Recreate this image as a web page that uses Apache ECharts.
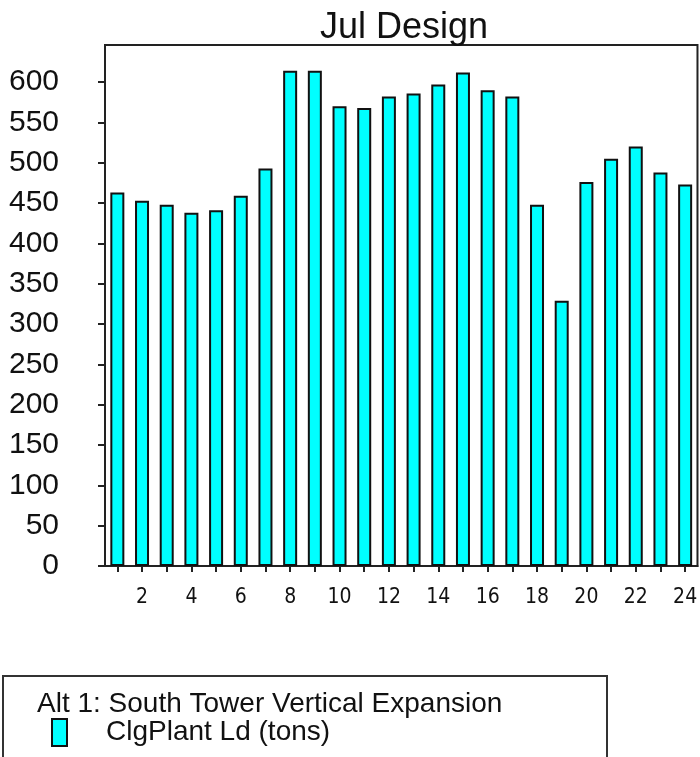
<!DOCTYPE html>
<html><head><meta charset="utf-8">
<script src="https://cdn.jsdelivr.net/npm/echarts@6/dist/echarts.min.js"></script>
<style>html,body{margin:0;padding:0;background:#fff}#c{width:700px;height:757px}</style>
</head><body><div id="c"></div>
<script>
const chartTitle = 'Jul Design';
const hours = ['1','2','3','4','5','6','7','8','9','10','11','12','13','14','15','16','17','18','19','20','21','22','23','24'];
const loads = [463,453,448,438,441,459,493,614,614,570,568,582,586,597,612,590,582,448,329,476,505,520,488,473];
const yTicks = [0,50,100,150,200,250,300,350,400,450,500,550,600];
const yMax = 646;
const legendTitle = 'Alt 1: South Tower Vertical Expansion';
const seriesName = 'ClgPlant Ld (tons)';

const ink = '#111';
const chart = echarts.init(document.getElementById('c'), null, {renderer: 'canvas'});
chart.setOption({
  animation: false,
  backgroundColor: '#fff',
  title: {
    text: chartTitle, left: 399, textAlign: 'center', top: 5,
    textStyle: {fontFamily: 'Liberation Sans', fontSize: 36, fontWeight: 'normal', color: ink}
  },
  grid: {left: 105, top: 45, width: 600, bottom: 191, show: true, borderColor: '#222', borderWidth: 2, backgroundColor: 'transparent'},
  xAxis: {
    type: 'category', data: hours, boundaryGap: true,
    axisLine: {show: true, lineStyle: {color: '#222', width: 2}},
    axisTick: {show: true, alignWithLabel: true, interval: 0, length: 6, lineStyle: {color: '#222', width: 2}},
    axisLabel: {
      interval: function (i) { return i % 2 === 1; },
      margin: 21, fontFamily: "'Liberation Sans Narrow', 'DejaVu Sans Condensed', sans-serif", fontSize: 21, color: ink
    }
  },
  yAxis: {
    type: 'value', min: 0, max: yMax,
    splitLine: {show: false},
    axisLine: {show: true, lineStyle: {color: '#222', width: 2}},
    axisTick: {show: true, length: 7, customValues: yTicks, lineStyle: {color: '#222', width: 2}},
    axisLabel: {customValues: yTicks, margin: 46, fontFamily: 'Liberation Sans', fontSize: 30, color: ink}
  },
  legend: {
    left: 51, top: 718, padding: 0, itemWidth: 15, itemHeight: 27, icon: 'rect',
    itemStyle: {borderColor: ink, borderWidth: 2},
    textStyle: {fontFamily: 'Liberation Sans', fontSize: 28, color: ink, padding: [0, 0, 0, 34]},
    data: [seriesName]
  },
  graphic: [
    {type: 'rect', shape: {x: 3, y: 676, width: 604, height: 120}, style: {fill: 'none', stroke: '#333', lineWidth: 2}, silent: true},
    {type: 'text', x: 37, y: 704, style: {text: legendTitle, font: '28px Liberation Sans', fill: ink, verticalAlign: 'middle'}, silent: true}
  ],
  series: [{
    name: seriesName, type: 'bar', data: loads, barWidth: 14,
    itemStyle: {color: '#00ffff', borderColor: ink, borderWidth: 2}
  }]
});
</script></body></html>
